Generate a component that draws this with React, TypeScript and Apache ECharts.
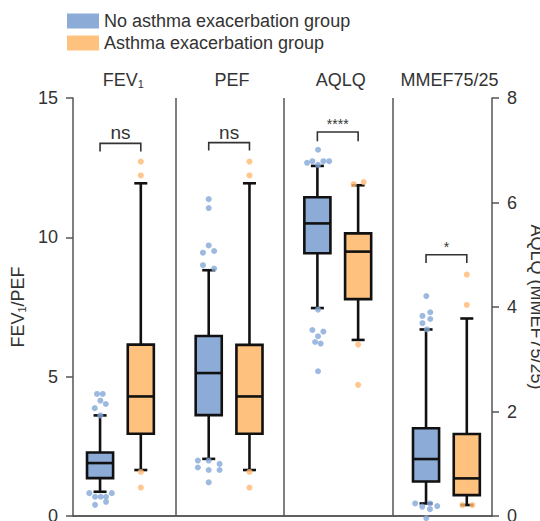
import React, { useEffect, useRef } from "react";
import * as echarts from "echarts";

// ---------- data ----------
const PANELS = ["FEV₁", "PEF", "AQLQ", "MMEF75/25"];
const PANEL_RICH = ["FEV{sub|1}", "PEF", "AQLQ", "MMEF75/25"];
// which y axis each panel uses: 0 = FEV1/PEF (left), 1 = AQLQ (MMEF75/25) (right)
const PANEL_AXIS = [0, 0, 1, 1];
const GROUPS = ["No asthma exacerbation group", "Asthma exacerbation group"];

// box stats: [lower whisker, Q1, median, Q3, upper whisker]
const NO_EXAC_BOX = [
  [0.87, 1.36, 1.9, 2.28, 3.61],
  [2.05, 3.62, 5.13, 6.46, 8.82],
  [3.98, 5.03, 5.6, 6.1, 6.7],
  [0.24, 0.66, 1.09, 1.68, 3.57],
];
const EXAC_BOX = [
  [1.65, 2.95, 4.29, 6.15, 11.94],
  [1.65, 2.95, 4.29, 6.14, 11.94],
  [3.37, 4.15, 5.06, 5.41, 6.33],
  [0.21, 0.4, 0.72, 1.57, 3.78],
];

// outliers: [panel, jitter, value]
const NO_EXAC_OUT = [
  [0, -0.028, 4.38], [0, 0.025, 4.38], [0, 0.003, 4.14], [0, 0.053, 4.02], [0, -0.049, 3.87], [0, 0.003, 3.61],
  [0, -0.099, 0.82], [0, -0.046, 0.69], [0, 0.006, 0.69], [0, 0.055, 0.69], [0, 0.108, 0.82], [0, 0.055, 0.51], [0, -0.046, 0.4],
  [1, 0.0, 11.37], [1, 0.0, 11.05], [1, 0.0, 9.71], [1, -0.053, 9.45], [1, 0.05, 9.51], [1, -0.053, 9.0], [1, 0.05, 8.88],
  [1, -0.1, 1.99], [1, 0.0, 1.99], [1, 0.1, 1.87], [1, -0.1, 1.74], [1, 0.0, 1.65], [1, 0.1, 1.65], [1, 0.0, 1.21],
  [2, 0.006, 7.01], [2, -0.095, 6.76], [2, -0.046, 6.79], [2, 0.006, 6.72], [2, 0.055, 6.79], [2, 0.108, 6.79],
  [2, 0.006, 3.95], [2, -0.046, 3.56], [2, 0.055, 3.53], [2, 0.006, 3.44], [2, -0.021, 3.33], [2, 0.03, 3.3], [2, 0.006, 2.77],
  [3, 0.002, 4.21], [3, 0.039, 3.9], [3, -0.033, 3.83], [3, 0.039, 3.77], [3, -0.033, 3.69], [3, 0.008, 3.57],
  [3, -0.1, 0.24], [3, -0.035, 0.18], [3, 0.036, 0.24], [3, 0.103, 0.19], [3, 0.036, 0.13], [3, 0.002, -0.04],
];
const EXAC_OUT = [
  [0, 0, 12.72], [0, 0, 12.22], [0, 0, 1.58], [0, 0, 1.02],
  [1, 0, 12.72], [1, 0, 12.22], [1, 0, 1.58], [1, 0, 1.02],
  [2, -0.041, 6.35], [2, 0.051, 6.39], [2, 0, 3.28], [2, 0, 2.51],
  [3, 0, 4.62], [3, 0, 4.04], [3, -0.04, 0.21], [3, 0.052, 0.21],
];

// significance brackets: label, bracket top value, leg end value
const SIG_LABELS = ["ns", "ns", "****", "*"];
const SIG_TOP = [13.37, 13.4, 7.35, 5.0];
const SIG_LEG = [13.08, 13.12, 7.17, 4.84];

const LEFT_TICKS = [0, 5, 10, 15];
const RIGHT_TICKS = [0, 2, 4, 6, 8];

// ---------- style ----------
const FONT = "'Liberation Sans', Arial, Helvetica, sans-serif";
const BLUE = "#8CABD6";
const ORANGE = "#FFC27E";
const BLUE_DOT = "#86A7D8";
const ORANGE_DOT = "#FFB870";
const INK = "#111";
const AXIS = "#555";
const TEXT = "#333";
const BLUE_POS = 0.305;
const ORANGE_POS = 0.68;
const BOX_W = 0.24;
const X_MIN = 0.056;
const X_MAX = 3.912;

function renderBox(fill: string) {
  return (params: any, api: any) => {
    const x = api.value(0);
    const c = (v: number) => api.coord([x, v]);
    const [cx, yLow] = c(api.value(1));
    const yQ1 = c(api.value(2))[1];
    const yMed = c(api.value(3))[1];
    const yQ3 = c(api.value(4))[1];
    const yHigh = c(api.value(5))[1];
    const half = api.size([BOX_W, 0])[0] / 2;
    const cap = half * 0.5;
    const ls = { stroke: INK, lineWidth: 2.6 };
    return {
      type: "group",
      children: [
        { type: "line", shape: { x1: cx, y1: yHigh, x2: cx, y2: yQ3 }, style: ls },
        { type: "line", shape: { x1: cx, y1: yQ1, x2: cx, y2: yLow }, style: ls },
        { type: "line", shape: { x1: cx - cap, y1: yHigh, x2: cx + cap, y2: yHigh }, style: ls },
        { type: "line", shape: { x1: cx - cap, y1: yLow, x2: cx + cap, y2: yLow }, style: ls },
        {
          type: "rect",
          shape: { x: cx - half, y: yQ3, width: half * 2, height: yQ1 - yQ3 },
          style: { fill, stroke: INK, lineWidth: 2.6 },
        },
        { type: "line", shape: { x1: cx - half, y1: yMed, x2: cx + half, y2: yMed }, style: ls },
      ],
    };
  };
}

function renderBracket(params: any, api: any) {
  const i = api.value(0);
  const top = api.value(1);
  const leg = api.value(2);
  const label = SIG_LABELS[i];
  const [x1, yTop] = api.coord([i + BLUE_POS, top]);
  const [x2, yLeg] = api.coord([i + ORANGE_POS, leg]);
  const star = label.indexOf("*") >= 0;
  return {
    type: "group",
    children: [
      {
        type: "polyline",
        shape: { points: [[x1, yLeg], [x1, yTop], [x2, yTop], [x2, yLeg]] },
        style: { stroke: TEXT, lineWidth: 1.6, fill: "none" },
      },
      {
        type: "text",
        x: (x1 + x2) / 2,
        y: yTop - 1,
        style: {
          text: label,
          fill: TEXT,
          fontSize: star ? 14 : 19,
          fontFamily: FONT,
          align: "center",
          verticalAlign: "bottom",
        },
      },
    ],
  };
}

function buildOption() {
  const series: any[] = [];
  [0, 1].forEach((axis) => {
    const idx = PANELS.map((_, i) => i).filter((i) => PANEL_AXIS[i] === axis);
    series.push({
      type: "custom",
      name: GROUPS[0],
      yAxisIndex: axis,
      itemStyle: { color: BLUE },
      renderItem: renderBox(BLUE),
      data: idx.map((i) => [i + BLUE_POS, ...NO_EXAC_BOX[i]]),
      silent: true,
      z: 3,
    });
    series.push({
      type: "custom",
      name: GROUPS[1],
      yAxisIndex: axis,
      itemStyle: { color: ORANGE },
      renderItem: renderBox(ORANGE),
      data: idx.map((i) => [i + ORANGE_POS, ...EXAC_BOX[i]]),
      silent: true,
      z: 3,
    });
    series.push({
      type: "scatter",
      name: GROUPS[0],
      yAxisIndex: axis,
      symbolSize: 6,
      clip: false,
      itemStyle: { color: BLUE_DOT },
      data: NO_EXAC_OUT.filter((d) => PANEL_AXIS[d[0]] === axis).map((d) => [d[0] + BLUE_POS + d[1], d[2]]),
      silent: true,
      z: 4,
    });
    series.push({
      type: "scatter",
      name: GROUPS[1],
      yAxisIndex: axis,
      symbolSize: 6,
      clip: false,
      itemStyle: { color: ORANGE_DOT },
      data: EXAC_OUT.filter((d) => PANEL_AXIS[d[0]] === axis).map((d) => [d[0] + ORANGE_POS + d[1], d[2]]),
      silent: true,
      z: 4,
    });
    series.push({
      type: "custom",
      name: "sig" + axis,
      yAxisIndex: axis,
      renderItem: renderBracket,
      data: idx.map((i) => [i, SIG_TOP[i], SIG_LEG[i]]),
      silent: true,
      clip: false,
      z: 5,
    });
  });
  // panel dividers
  series.push({
    type: "line",
    name: "dividers",
    data: [],
    silent: true,
    markLine: {
      silent: true,
      symbol: "none",
      label: { show: false },
      lineStyle: { color: AXIS, width: 1.5, type: "solid" },
      data: PANELS.slice(1).map((_, i) => ({ xAxis: i + 1 })),
    },
  });

  const subRich = {
    sub: { fontSize: 11, fontFamily: FONT, color: TEXT, padding: [7, 0, 0, 0] },
  };

  return {
    animation: false,
    textStyle: { fontFamily: FONT },
    legend: {
      data: GROUPS,
      orient: "vertical",
      left: 67,
      top: 12,
      padding: 0,
      itemWidth: 32,
      itemHeight: 15,
      itemGap: 4,
      icon: "rect",
      selectedMode: false,
      textStyle: { fontSize: 18, color: TEXT, fontFamily: FONT },
    },
    grid: { left: 73, right: 48, top: 98, bottom: 5, outerBoundsMode: "none", containLabel: false },
    xAxis: [
      {
        type: "value",
        min: X_MIN,
        max: X_MAX,
        position: "bottom",
        axisLine: { show: true, lineStyle: { color: AXIS, width: 1.5 } },
        axisTick: { show: false },
        axisLabel: { show: false },
        splitLine: { show: false },
      },
      {
        type: "value",
        min: X_MIN,
        max: X_MAX,
        position: "top",
        axisLine: { show: true, lineStyle: { color: AXIS, width: 1.5 } },
        axisTick: { show: false },
        splitLine: { show: false },
        axisLabel: {
          show: true,
          customValues: PANELS.map((_, i) => i + 0.52),
          formatter: (v: number) => PANEL_RICH[Math.floor(v)],
          fontSize: 18,
          color: TEXT,
          fontFamily: FONT,
          margin: 9,
          rich: subRich,
        },
      },
    ],
    yAxis: [
      {
        type: "value",
        min: LEFT_TICKS[0],
        max: LEFT_TICKS[LEFT_TICKS.length - 1],
        interval: LEFT_TICKS[1] - LEFT_TICKS[0],
        position: "left",
        axisLine: { show: true, onZero: false, lineStyle: { color: AXIS, width: 1.5 } },
        axisTick: { show: true, length: 7, lineStyle: { color: AXIS, width: 1.5 } },
        axisLabel: { fontSize: 18, color: TEXT, fontFamily: FONT, margin: 15 },
        splitLine: { show: false },
        name: "FEV{sub|1}/PEF",
        nameLocation: "middle",
        nameGap: 44,
        nameTextStyle: { fontSize: 18, color: TEXT, fontFamily: FONT, rich: subRich },
      },
      {
        type: "value",
        min: RIGHT_TICKS[0],
        max: RIGHT_TICKS[RIGHT_TICKS.length - 1],
        interval: RIGHT_TICKS[1] - RIGHT_TICKS[0],
        position: "right",
        axisLine: { show: true, onZero: false, lineStyle: { color: AXIS, width: 1.5 } },
        axisTick: { show: true, length: 7, lineStyle: { color: AXIS, width: 1.5 } },
        axisLabel: { fontSize: 18, color: TEXT, fontFamily: FONT, margin: 15 },
        splitLine: { show: false },
        name: "AQLQ (MMEF75/25)",
        nameLocation: "middle",
        nameRotate: -90,
        nameGap: 33,
        nameTextStyle: { fontSize: 18, color: TEXT, fontFamily: FONT },
      },
    ],
    series,
  };
}

export default function App() {
  const ref = useRef<HTMLDivElement>(null);
  useEffect(() => {
    if (!ref.current) return;
    const chart = echarts.init(ref.current, undefined, { renderer: "svg" });
    chart.setOption(buildOption() as any);
    return () => chart.dispose();
  }, []);
  return (
    <div
      ref={ref}
      style={{ position: "absolute", left: 0, top: 0, width: 540, height: 521, background: "#fff" }}
    />
  );
}
